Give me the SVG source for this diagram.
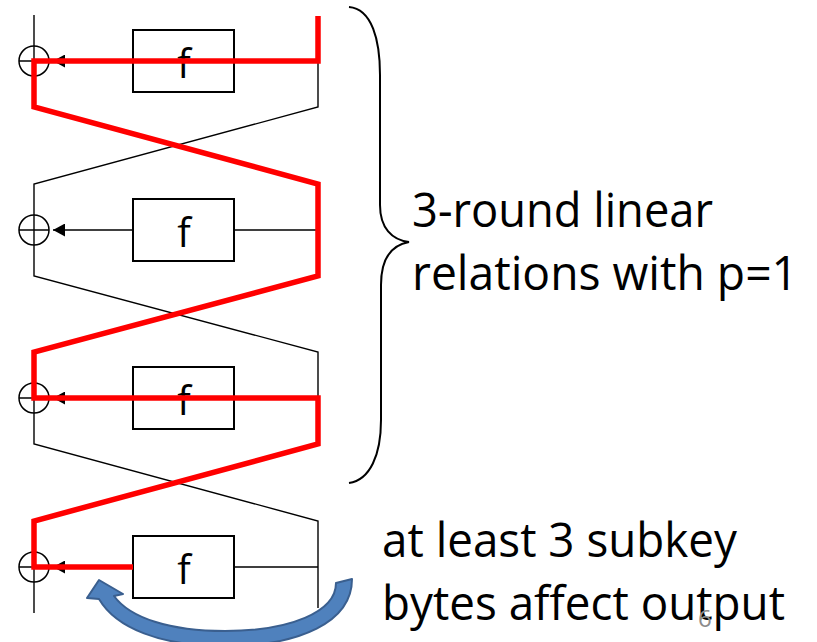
<svg xmlns="http://www.w3.org/2000/svg" width="817" height="642" viewBox="0 0 817 642">
<style>
.w{fill:none;stroke:#000;stroke-width:1.4}
.box{fill:#fff;stroke:#000;stroke-width:2}
.xor{fill:none;stroke:#000;stroke-width:1.5}
.f{font-family:"Open Sans",sans-serif;font-size:40px;fill:#000;text-anchor:middle}
.t{font-family:"Open Sans",sans-serif;font-size:47px;fill:#000}
.red{fill:none;stroke:#ff0000;stroke-width:5.5;stroke-linejoin:miter}
</style>
<defs>
<marker id="ah" viewBox="0 0 12 13" refX="12" refY="6.5" markerWidth="12" markerHeight="13" markerUnits="userSpaceOnUse" orient="auto">
<path d="M0,0 L12,6.5 L0,13 Z" fill="#000"/>
</marker>
</defs>
<g id="connectors">
<path class="w" d="M34,15 V107 L318,184 V276 L34,352 V444 L318,521 V608"/>
<path class="w" d="M318,16 V107 L34,184 V276 L318,352 V444 L34,521 V613"/>
<path class="w" d="M318,61 H234 M318,230 H234 M318,398 H234 M318,567 H234"/>
<path class="w" d="M133,61 H53" marker-end="url(#ah)"/>
<path class="w" d="M133,230 H53" marker-end="url(#ah)"/>
<path class="w" d="M133,398 H53" marker-end="url(#ah)"/>
<path class="w" d="M133,567 H53" marker-end="url(#ah)"/>
</g>
<g id="xor1"><circle class="xor" cx="34" cy="61" r="15"/><path class="xor" d="M19,61 H49"/></g>
<g id="xor2"><circle class="xor" cx="34" cy="230" r="15"/><path class="xor" d="M19,230 H49"/></g>
<g id="xor3"><circle class="xor" cx="34" cy="398" r="15"/><path class="xor" d="M19,398 H49"/></g>
<g id="xor4"><circle class="xor" cx="34" cy="567" r="15"/><path class="xor" d="M19,567 H49"/></g>
<g id="f1"><rect class="box" x="133" y="30" width="101" height="62"/><text class="f" x="184" y="78">f</text></g>
<g id="f2"><rect class="box" x="133" y="199" width="101" height="62"/><text class="f" x="184" y="247">f</text></g>
<g id="f3"><rect class="box" x="133" y="367" width="101" height="62"/><text class="f" x="184" y="415">f</text></g>
<g id="f4"><rect class="box" x="133" y="536" width="101" height="62"/><text class="f" x="184" y="584">f</text></g>
<g id="trail">
<path class="red" d="M318,16 V61 H34 V107 L318,184 V276 L34,352 V398 H318 V444 L34,521 V567 H133"/>
</g>
<g id="brace">
<path fill="none" stroke="#000" stroke-width="2" d="M349,7 C372,9 380,40 380,75 V205 C380,228 392,240 409,242 C392,245 381,258 381,285 V420 C381,455 370,480 349,483"/>
</g>
<g id="label-relations">
<text class="t" x="412" y="227" textLength="301" lengthAdjust="spacingAndGlyphs">3-round linear</text>
<text class="t" x="412" y="290" textLength="386" lengthAdjust="spacingAndGlyphs">relations with p=1</text>
</g>
<g id="label-subkey">
<text class="t" x="382" y="557" textLength="355" lengthAdjust="spacingAndGlyphs">at least 3 subkey</text>
<text class="t" x="382" y="620" textLength="403" lengthAdjust="spacingAndGlyphs">bytes affect output</text>
</g>
<g id="curved-arrow">
<path fill="#4f81bd" stroke="#3a5f8f" stroke-width="2" stroke-linejoin="round" d="M352,579 C352,622 300,646 225,646 C160,646 116,628 99,599 L87,598 L99,580 L123,594 L114,596 C130,618 170,631 225,631 C290,631 336,612 336,583 Z"/>
</g>
<g id="page-number">
<text x="698" y="627" font-family="Open Sans, sans-serif" font-size="24" fill="#8c8c8c">6</text>
</g>
</svg>
